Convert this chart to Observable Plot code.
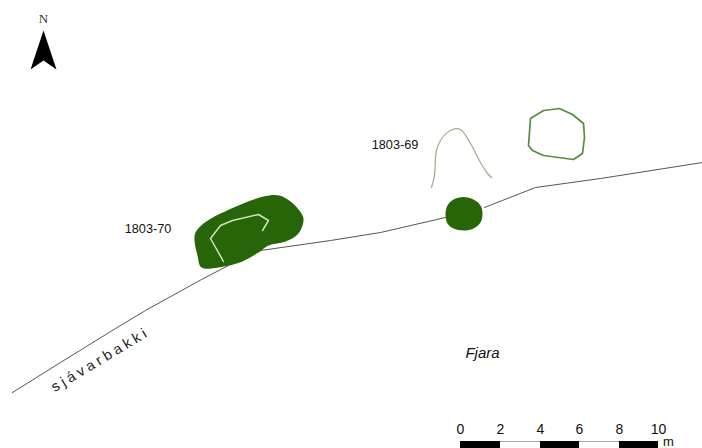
<!DOCTYPE html>
<html>
<head>
<meta charset="utf-8">
<script src="https://cdn.jsdelivr.net/npm/d3@7"></script>
<script src="https://cdn.jsdelivr.net/npm/@observablehq/plot@0.6"></script>
<style>
html,body{margin:0;padding:0;background:#fff;overflow:hidden}
</style>
</head>
<body>
<div id="chart"></div>
<script>
const shoreWest = [[12,392],[60,362],[115,328],[145,310],[201,279],[228,265],[260,250],[330,240],[380,232],[445,217]];
const shoreEast = [[484,207],[535,187],[600,178],[702,162]];
const mound70 = [[195,232],[203,223],[220,213],[263,196],[279,195],[290,201],[298,209],[303,218],[298,233],[285,241],[268,245],[258,252],[242,261],[228,265],[201,267],[197,255],[194,240]];
const mound70Inner = [[223,261],[210,238],[220,225],[232,220],[258,214],[268,220],[262,230]];
const mound69 = [[463,196.5],[473,199],[480,205],[482,213],[480,222],[473,228],[463,230],[453,228],[447,223],[445,214],[447,205],[453,199]];
const outline69 = [[431,187],[434,175],[436,150],[442,137],[452,129],[460,129],[470,143],[480,162],[487,173],[491,177]];
const ring = [[530,118],[543,110],[559,108],[572,114],[583,123],[584,137],[582,153],[573,159],[543,155],[532,150],[528,145],[530,118]];
const arrow = [[43,30],[56,69],[43,60],[30,69]];
const barBlack = [[460,500],[540,579],[619,658]];
const barTicks = [460,500,540,579,619,658];
const barLabels = ["0","2","4","6","8","10"];
const labels = [
  {x:147.5,y:228,t:"1803-70"},
  {x:394.5,y:144,t:"1803-69"}
];
const green = "#266508";
const px = d => d[0], py = d => d[1];
const font = "Liberation Sans";
const spaced = (i,s,v,d,c,next) => { const g = next(i,s,v,d,c); g.style.letterSpacing = "3.6px"; return g; };
const chart = Plot.plot({
  width:702,height:448,margin:0,
  style:{background:"#fff",fontFamily:font,color:"#000"},
  x:{axis:null,domain:[0,702],range:[0,702]},
  y:{axis:null,domain:[0,448],range:[0,448]},
  marks:[
    Plot.line(shoreWest,{x:px,y:py,stroke:"#555",strokeWidth:1}),
    Plot.line(shoreEast,{x:px,y:py,stroke:"#555",strokeWidth:1}),
    Plot.line(mound70,{x:px,y:py,fill:green,stroke:"none",curve:"catmull-rom-closed"}),
    Plot.line(mound70Inner,{x:px,y:py,stroke:"#cfe3b8",strokeWidth:1.5}),
    Plot.line(mound69,{x:px,y:py,fill:green,stroke:"none",curve:"catmull-rom-closed"}),
    Plot.line(outline69,{x:px,y:py,stroke:"#9aae8a",strokeWidth:1.2,curve:"catmull-rom"}),
    Plot.line(ring,{x:px,y:py,stroke:"#5a8a42",strokeWidth:1.7}),
    Plot.line(arrow,{x:px,y:py,fill:"#000",stroke:"none"}),
    Plot.text(["N"],{x:[43],y:[18],text:d=>d,fontSize:13,fontFamily:"Liberation Serif",fill:"#333"}),
    Plot.text(labels,{x:"x",y:"y",text:"t",fontSize:12.7,fill:"#111"}),
    Plot.text(["Fjara"],{x:[482],y:[353],text:d=>d,fontSize:15,fontStyle:"italic",fill:"#111"}),
    Plot.text(["sjávarbakki"],{x:[100],y:[359],text:d=>d,fontSize:14.5,rotate:-31,fill:"#222",render:spaced}),
    Plot.ruleY([441],{x1:460,x2:658,stroke:"#aaa",strokeWidth:1}),
    Plot.rect(barBlack,{x1:px,x2:py,y1:()=>441,y2:()=>448,fill:"#000"}),
    Plot.text(barLabels,{x:(d,i)=>barTicks[i],y:()=>429,text:d=>d,fontSize:14,fill:"#111"}),
    Plot.text(["m"],{x:[668],y:[441.5],text:d=>d,fontSize:13,fill:"#111"})
  ]
});
document.getElementById("chart").appendChild(chart);
</script>
</body>
</html>
